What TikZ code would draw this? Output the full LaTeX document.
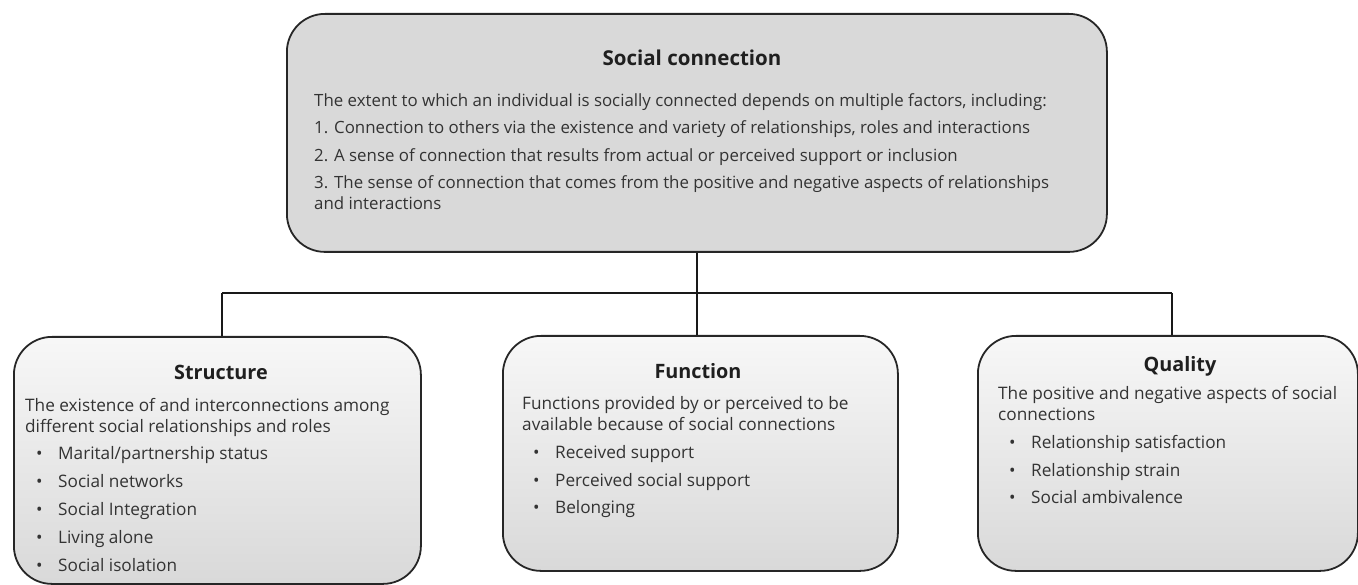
\documentclass[tikz,border=0pt]{standalone}
\usepackage{fontspec}
\setmainfont{Open Sans}
\newcommand\bulitem[1]{\hspace*{11pt}\makebox[22pt][l]{\textbullet}#1}
\begin{document}
\begin{tikzpicture}[x=1pt,y=-1pt,
  box/.style={draw=black!85, line width=1.8pt, rounded corners=38pt,
    inner sep=0pt, anchor=north west},
  topbox/.style={box, fill=black!15},
  subbox/.style={box, top color=black!3, bottom color=black!15},
  link/.style={draw=black!90, line width=1.6pt},
  titletext/.style={anchor=base, inner sep=0pt, text=black!88,
    font=\fontsize{19.8}{24}\selectfont\bfseries},
  bodytext/.style={anchor=north west, inner sep=0pt, align=left,
    text=black!80, font=\fontsize{17.2}{21}\selectfont}]

\useasboundingbox (0,0) rectangle (1358,585);

% boxes
\node[topbox, minimum width=820pt, minimum height=238pt] (top) at (286,13) {};
\node[subbox, minimum width=407pt, minimum height=247pt] (structure) at (13,336) {};
\node[subbox, minimum width=395pt, minimum height=235pt] (function) at (502,335) {};
\node[subbox, minimum width=380pt, minimum height=235pt] (quality) at (977,335) {};

% tree connectors
\coordinate (jl) at (222,293);
\coordinate (jm) at (697,293);
\coordinate (jr) at (1172,293);
\draw[link] (top.south) -- (top.south |- jm);
\draw[link] (jl) -- (jr);
\draw[link] (jl) -- (jl |- structure.north);
\draw[link] (jm) -- (jm |- function.north);
\draw[link] (jr) -- (jr |- quality.north);

% top box text
\node[titletext, font=\fontsize{20.5}{24}\selectfont\bfseries] (toptitle) at (692,65.7) {Social connection};
\node[bodytext, font=\fontsize{16.85}{21}\selectfont] (topbody) at (314,93.3) {The extent to which an individual is socially connected depends on multiple factors, including:\\[6.5pt]
1. Connection to others via the existence and variety of relationships, roles and interactions\\[6.5pt]
2. A sense of connection that results from actual or perceived support or inclusion\\[6.5pt]
3. The sense of connection that comes from the positive and negative aspects of relationships\\
and interactions};

% structure
\node[titletext] (stitle) at (221,380) {Structure};
\node[bodytext] (sbody) at (25,398.5) {The existence of and interconnections among\\
different social relationships and roles\\[6pt]
\bulitem{Marital/partnership status}\\[7pt]
\bulitem{Social networks}\\[7pt]
\bulitem{Social Integration}\\[7pt]
\bulitem{Living alone}\\[7pt]
\bulitem{Social isolation}};

% function
\node[titletext] (ftitle) at (698,379) {Function};
\node[bodytext] (fbody) at (522,396.5) {Functions provided by or perceived to be\\
available because of social connections\\[7pt]
\bulitem{Received support}\\[6.5pt]
\bulitem{Perceived social support}\\[6.5pt]
\bulitem{Belonging}};

% quality
\node[titletext] (qtitle) at (1180,371) {Quality};
\node[bodytext] (qbody) at (998,386.5) {The positive and negative aspects of social\\
connections\\[7pt]
\bulitem{Relationship satisfaction}\\[6.5pt]
\bulitem{Relationship strain}\\[6.5pt]
\bulitem{Social ambivalence}};

\end{tikzpicture}
\end{document}
